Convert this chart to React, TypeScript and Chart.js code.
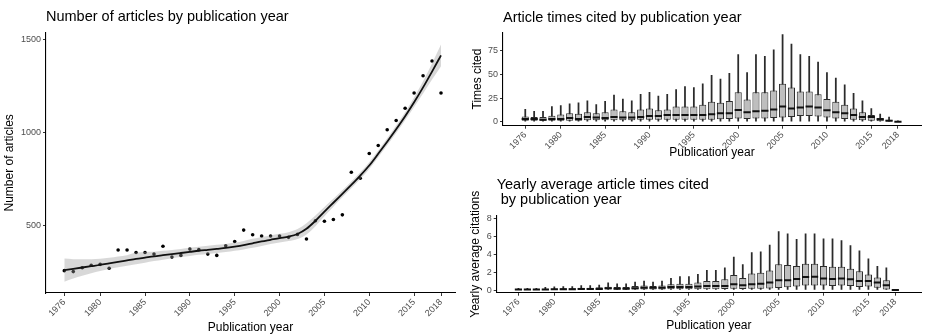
import React, { useEffect, useRef } from "react";
import { Chart, registerables } from "chart.js";

Chart.register(...registerables);

const FONT = '"Liberation Sans", Arial, Helvetica, sans-serif';
Chart.defaults.font.family = FONT;

const YEARS = [
  1976, 1977, 1978, 1979, 1980, 1981, 1982, 1983, 1984, 1985, 1986, 1987, 1988, 1989, 1990,
  1991, 1992, 1993, 1994, 1995, 1996, 1997, 1998, 1999, 2000, 2001, 2002, 2003, 2004, 2005,
  2006, 2007, 2008, 2009, 2010, 2011, 2012, 2013, 2014, 2015, 2016, 2017, 2018,
];
const YEAR_TICKS = [1976, 1980, 1985, 1990, 1995, 2000, 2005, 2010, 2015, 2018];

// Left panel: number of articles
const ARTICLES = [
  255, 250, 271, 284, 289, 268, 366, 366, 353, 353, 344, 386, 328, 337, 371,
  368, 344, 337, 389, 412, 473, 448, 441, 441, 441, 434, 450, 425, 523, 521,
  530, 555, 784, 752, 885, 928, 1012, 1062, 1128, 1210, 1303, 1382, 1210,
];
const SMOOTH = [
  258, 265, 272, 279, 286, 294, 302, 310, 318, 325, 332, 338, 344, 350, 356,
  362, 367, 372, 377, 384, 392, 402, 412, 421, 430, 438, 452, 480, 523, 572,
  620, 668, 716, 766, 820, 883, 948, 1015, 1085, 1160, 1240, 1325, 1412,
];
const SMOOTH_LO = [
  196, 213, 228, 241, 253, 264, 273, 282, 290, 298, 307, 314, 322, 328, 334,
  340, 345, 350, 355, 362, 369, 378, 388, 398, 407, 414, 425, 450, 494, 547,
  599, 649, 698, 748, 802, 865, 929, 995, 1063, 1134, 1207, 1282, 1354,
];
const SMOOTH_HI = [
  320, 317, 316, 317, 319, 324, 331, 338, 352, 356, 357, 362, 366, 372, 378,
  384, 389, 394, 399, 406, 415, 426, 436, 444, 453, 462, 479, 510, 552, 597,
  641, 687, 734, 784, 838, 901, 967, 1035, 1107, 1186, 1273, 1368, 1470,
];
const ARTICLE_TICKS = [500, 1000, 1500];

// Top right: times cited box plots
const TC_MIN = [
  0, 0, 0, 0, 0, 0, 0, 0, 0, 0, 0, 0, 0, 0, 0,
  0, 0, 0, 0, 0, 0, 0, 0, 0, 0, 0, 0, 0, 0, 0,
  0, 0, 0, 0, 0, 0, 0, 0, 0, 0, 0, 0, 0,
];
const TC_Q1 = [
  1, 1, 1, 1, 1, 1, 1, 1.5, 1.5, 1.5, 1.5, 1.5, 1.5, 2, 2,
  2, 2, 2, 2, 2, 2, 2, 2.5, 3, 3.5, 3, 3.5, 3.5, 4, 4.5,
  5, 6, 6, 5.5, 4.5, 3.5, 3, 2, 1.5, 1, 0.5, 0, 0,
];
const TC_MED = [
  3, 3, 2, 3, 3, 4, 3, 5, 4.5, 4, 5, 4.5, 4.5, 5, 6,
  6, 7, 7, 7, 7, 7, 8, 9, 9, 12.5, 10, 11, 11.5, 13, 16,
  14, 15, 16, 15, 12, 10, 9, 7, 5, 5, 2.5, 1, 0,
];
const TC_Q3 = [
  5.6, 5, 5, 6.3, 7.7, 9, 8.5, 10, 9, 10, 13, 11, 10, 13, 14,
  12, 13, 16, 16, 16, 18, 21, 20, 22, 31, 23.5, 31, 31, 33, 40,
  36, 32, 32, 29, 24, 21, 18, 14, 10, 7, 4, 2, 0.5,
];
const TC_MAX = [
  13, 11, 11, 16, 17, 19, 20, 22, 18, 21.5, 28, 24, 22, 29, 31,
  27, 29, 34, 37, 36, 40, 49, 45, 51, 71, 52, 71, 69, 76, 92,
  82, 71, 69, 63, 52, 46, 39, 30, 22, 14, 8, 5, 1,
];
const CITED_TICKS = [0, 25, 50, 75];

// Bottom right: yearly average citations box plots
const AVG_MIN = [
  0, 0, 0, 0, 0, 0, 0, 0, 0, 0, 0, 0, 0, 0, 0,
  0, 0, 0, 0, 0, 0, 0, 0, 0, 0, 0, 0, 0, 0, 0,
  0, 0, 0, 0, 0, 0, 0, 0, 0, 0, 0, 0, 0,
];
const AVG_Q1 = [
  0.02, 0.02, 0.02, 0.03, 0.03, 0.03, 0.03, 0.04, 0.04, 0.04, 0.05, 0.05, 0.05, 0.06, 0.07,
  0.07, 0.07, 0.08, 0.08, 0.08, 0.08, 0.08, 0.1, 0.12, 0.15, 0.12, 0.15, 0.15, 0.18, 0.22,
  0.3, 0.4, 0.5, 0.5, 0.5, 0.45, 0.5, 0.45, 0.35, 0.4, 0.25, 0.05, 0,
];
const AVG_MED = [
  0.05, 0.05, 0.05, 0.07, 0.08, 0.1, 0.08, 0.12, 0.12, 0.12, 0.2, 0.15, 0.15, 0.2, 0.25,
  0.25, 0.25, 0.35, 0.35, 0.35, 0.4, 0.45, 0.45, 0.45, 0.65, 0.55, 0.65, 0.7, 0.85, 1.1,
  1.1, 1.25, 1.45, 1.5, 1.3, 1.25, 1.3, 1.2, 1.0, 1.0, 0.85, 0.55, 0,
];
const AVG_Q3 = [
  0.1, 0.1, 0.1, 0.15, 0.15, 0.2, 0.2, 0.25, 0.25, 0.3, 0.37, 0.35, 0.35, 0.45, 0.5,
  0.45, 0.5, 0.65, 0.7, 0.7, 0.85, 1.0, 1.0, 1.2, 1.7, 1.35, 1.85, 1.95, 2.2, 2.9,
  2.8, 2.7, 2.95, 2.95, 2.7, 2.6, 2.6, 2.4, 2.1, 1.75, 1.4, 1.1, 0.03,
];
const AVG_MAX = [
  0.2, 0.2, 0.2, 0.3, 0.35, 0.4, 0.4, 0.5, 0.5, 0.55, 0.8, 0.7, 0.7, 0.9, 1.0,
  0.9, 1.0, 1.3, 1.5, 1.5, 1.75, 2.2, 2.2, 2.5, 3.7, 2.85, 4.2, 4.3, 5.05, 6.55,
  6.3, 5.7, 6.3, 6.3, 5.75, 5.75, 5.55, 5.0, 4.4, 3.5, 2.65, 2.5, 0.05,
];
const AVG_TICKS = [0, 2, 4, 6, 8];

const TICK_COLOR = "#4d4d4d";
const TICK_SIZE = 9;

function yearAxis(min: number, max: number, height: number, titlePadBottom: number) {
  return {
    type: "linear",
    min,
    max,
    offset: false,
    afterBuildTicks: (s: any) => {
      s.ticks = YEAR_TICKS.map((v) => ({ value: v }));
    },
    afterFit: (s: any) => {
      s.height = height;
    },
    ticks: {
      autoSkip: false,
      minRotation: 45,
      maxRotation: 45,
      padding: 1,
      color: TICK_COLOR,
      font: { family: FONT, size: TICK_SIZE },
      callback: (v: any) => String(v),
    },
    grid: { display: true, drawOnChartArea: false, drawTicks: true, tickLength: 3, color: "#333", offset: false },
    border: { display: true, color: "#000", width: 1.1 },
    title: {
      display: true,
      text: "Publication year",
      color: "#000",
      font: { family: FONT, size: 12, lineHeight: 1 },
      padding: { top: 0, bottom: titlePadBottom },
    },
  };
}

function valueAxis(min: number, max: number, ticks: number[], width: number, title: string, titlePadTop: number) {
  return {
    type: "linear",
    min,
    max,
    afterBuildTicks: (s: any) => {
      s.ticks = ticks.map((v) => ({ value: v }));
    },
    afterFit: (s: any) => {
      s.width = width;
    },
    ticks: {
      padding: 2,
      color: TICK_COLOR,
      font: { family: FONT, size: TICK_SIZE },
      callback: (v: any) => String(v),
    },
    grid: { display: true, drawOnChartArea: false, drawTicks: true, tickLength: 3, color: "#333" },
    border: { display: true, color: "#000", width: 1.1 },
    title: {
      display: true,
      text: title,
      color: "#000",
      font: { family: FONT, size: 12, lineHeight: 1 },
      padding: { top: titlePadTop, bottom: 0 },
    },
  };
}

function titleOpts(text: string | string[], padTop: number, padBottom: number, lineHeight: number) {
  return {
    display: true,
    text,
    align: "start",
    fullSize: false,
    color: "#000",
    font: { family: FONT, size: 14.5, weight: "normal", lineHeight },
    padding: { top: padTop, bottom: padBottom },
  };
}

function leftConfig(): any {
  const band = "rgba(153,153,153,0.38)";
  return {
    type: "scatter",
    data: {
      datasets: [
        {
          type: "line",
          data: YEARS.map((x, i) => ({ x, y: SMOOTH[i] })),
          borderColor: "#111",
          borderWidth: 1.8,
          pointRadius: 0,
          fill: false,
          cubicInterpolationMode: "monotone",
          order: 0,
        },
        {
          type: "line",
          data: YEARS.map((x, i) => ({ x, y: SMOOTH_HI[i] })),
          borderColor: "rgba(0,0,0,0)",
          borderWidth: 0,
          pointRadius: 0,
          fill: 2,
          backgroundColor: band,
          cubicInterpolationMode: "monotone",
          order: 1,
        },
        {
          type: "line",
          data: YEARS.map((x, i) => ({ x, y: SMOOTH_LO[i] })),
          borderColor: "rgba(0,0,0,0)",
          borderWidth: 0,
          pointRadius: 0,
          fill: false,
          cubicInterpolationMode: "monotone",
          order: 2,
        },
        {
          type: "scatter",
          data: YEARS.map((x, i) => ({ x, y: ARTICLES[i] })),
          pointRadius: 1.8,
          backgroundColor: "#000",
          borderColor: "#000",
          borderWidth: 0,
          order: 3,
        },
      ],
    },
    options: {
      responsive: false,
      animation: false,
      events: [],
      layout: { padding: { left: 0, right: 5, top: 0, bottom: 0 } },
      plugins: {
        legend: { display: false },
        tooltip: { enabled: false },
        title: titleOpts("Number of articles by publication year", 8.3, 7, 1.2),
      },
      scales: {
        x: yearAxis(1973.96, 2019.56, 41, 0),
        y: valueAxis(135, 1534, ARTICLE_TICKS, 46, "Number of articles", 3.5),
      },
    },
  };
}

function boxConfig(
  mins: number[], q1: number[], med: number[], q3: number[], maxs: number[],
  title: string | string[], titlePad: [number, number], titleLH: number,
  xr: [number, number], yr: [number, number], ticks: number[], yWidth: number,
  yTitle: string, yTitlePad: number, xTitlePad: number
): any {
  return {
    type: "bar",
    data: {
      datasets: [
        {
          type: "scatter",
          data: YEARS.map((x, i) => ({ x, y: med[i] })),
          pointStyle: "line",
          pointRadius: 3.6,
          borderColor: "#111",
          pointBorderColor: "#111",
          borderWidth: 2,
          pointBorderWidth: 2,
          showLine: false,
          order: 0,
        },
        {
          type: "bar",
          data: YEARS.map((x, i) => ({ x, y: [q1[i], q3[i]] })),
          backgroundColor: "#bebebe",
          borderColor: "#2b2b2b",
          borderWidth: 1,
          borderSkipped: false,
          grouped: false,
          barPercentage: 0.8,
          categoryPercentage: 1,
          order: 1,
        },
        {
          type: "bar",
          data: YEARS.map((x, i) => ({ x, y: [mins[i], maxs[i]] })),
          backgroundColor: "#2b2b2b",
          borderWidth: 0,
          grouped: false,
          barThickness: 1.1,
          order: 2,
        },
      ],
    },
    options: {
      responsive: false,
      animation: false,
      events: [],
      layout: { padding: { left: 0, right: 1, top: 0, bottom: 0 } },
      plugins: {
        legend: { display: false },
        tooltip: { enabled: false },
        title: titleOpts(title, titlePad[0], titlePad[1], titleLH),
      },
      scales: {
        x: yearAxis(xr[0], xr[1], 41.3, xTitlePad),
        y: valueAxis(yr[0], yr[1], ticks, yWidth, yTitle, yTitlePad),
      },
    },
  };
}

function ChartBox(props: { left: number; top: number; width: number; height: number; make: () => any }) {
  const ref = useRef<HTMLCanvasElement | null>(null);
  useEffect(() => {
    const chart = new Chart(ref.current as HTMLCanvasElement, props.make());
    return () => chart.destroy();
  }, []);
  return (
    <canvas
      ref={ref}
      width={props.width}
      height={props.height}
      style={{ position: "absolute", left: props.left, top: props.top, width: props.width, height: props.height }}
    />
  );
}

export default function App() {
  return (
    <div style={{ position: "absolute", left: 0, top: 0, width: 927, height: 334, background: "#fff", overflow: "hidden" }}>
      <ChartBox left={0} top={0} width={460} height={334} make={leftConfig} />
      <ChartBox
        left={460}
        top={0}
        width={467}
        height={167}
        make={() =>
          boxConfig(
            TC_MIN, TC_Q1, TC_MED, TC_Q3, TC_MAX,
            "Article times cited by publication year", [9, 5.9], 1.2,
            [1973.49, 2020.6], [-4.2, 94.4], CITED_TICKS, 43,
            "Times cited", 12, 8
          )
        }
      />
      <ChartBox
        left={460}
        top={167}
        width={467}
        height={167}
        make={() =>
          boxConfig(
            AVG_MIN, AVG_Q1, AVG_MED, AVG_Q3, AVG_MAX,
            ["Yearly average article times cited", " by publication year"], [10, 8], 1.06,
            [1973.58, 2020.86], [-0.3, 8.34], AVG_TICKS, 36.7,
            "Yearly average citations", 10, 2
          )
        }
      />
    </div>
  );
}
